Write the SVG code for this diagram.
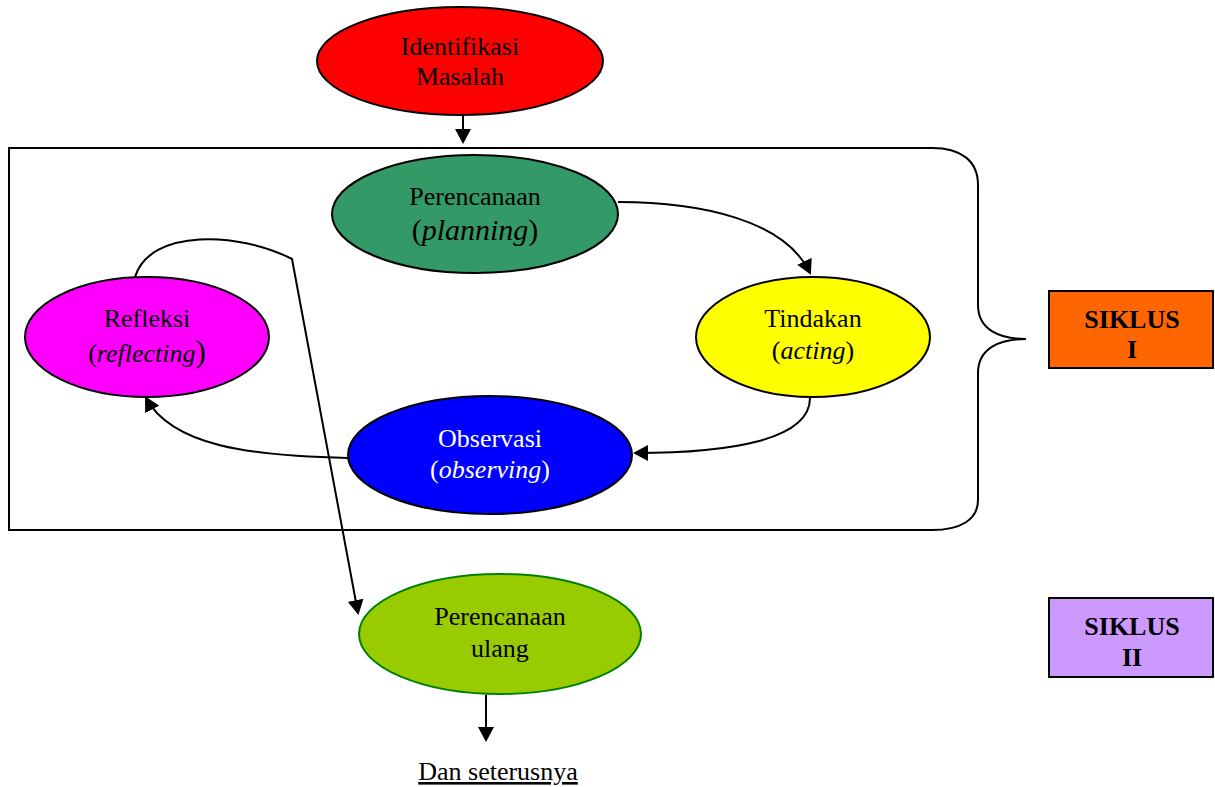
<svg xmlns="http://www.w3.org/2000/svg" width="1215" height="787" viewBox="0 0 1215 787">
<style>
text{font-family:"Liberation Serif","Times New Roman",serif;font-size:26px;text-anchor:middle;fill:#000}
.n{stroke:#000;stroke-width:2}
.c{fill:none;stroke:#000;stroke-width:2}
.b{font-weight:bold}
.w{fill:#fff}
</style>
<defs>
<marker id="ah" markerWidth="15" markerHeight="16" refX="13" refY="8" orient="auto" markerUnits="userSpaceOnUse">
<path d="M0,0 L15,8 L0,16 Z" fill="#000"/>
</marker>
</defs>
<g id="frame">
<path class="c" d="M 9 148 H 932 C 960 148 978 160 978 185 V 305 C 978 330 1000 339 1026 339 C 1000 339 978 348 978 373 V 500 C 978 520 960 530 932 530 H 9 Z"/>
</g>
<g id="connectors">
<path class="c" d="M 463 115 L 463 142" marker-end="url(#ah)"/>
<path class="c" d="M 618 202 C 700 202 785 220 810 273" marker-end="url(#ah)"/>
<path class="c" d="M 810 398 C 810 440 730 453 635 453" marker-end="url(#ah)"/>
<path class="c" d="M 348 458 C 250 456 172 446 146 398" marker-end="url(#ah)"/>
<path class="c" d="M 135 277 C 150 228 240 232 292 259 L 358 613" marker-end="url(#ah)"/>
<path class="c" d="M 486 695 L 486 740" marker-end="url(#ah)"/>
</g>
<g id="identifikasi">
<ellipse class="n" cx="460" cy="61" rx="143" ry="54" fill="#FF0000"/>
<text x="460" y="55">Identifikasi</text>
<text x="460" y="85">Masalah</text>
</g>
<g id="perencanaan">
<ellipse class="n" cx="475" cy="214" rx="143" ry="59" fill="#339966"/>
<text x="475" y="205">Perencanaan</text>
<text x="475" y="240" style="font-size:30px">(<tspan font-style="italic">planning</tspan>)</text>
</g>
<g id="tindakan">
<ellipse class="n" cx="813" cy="337" rx="117" ry="60" fill="#FFFF00"/>
<text x="813" y="327">Tindakan</text>
<text x="813" y="359">(<tspan font-style="italic">acting</tspan>)</text>
</g>
<g id="refleksi">
<ellipse class="n" cx="147" cy="337" rx="122" ry="60" fill="#FF00FF"/>
<text x="147" y="327">Refleksi</text>
<text x="147" y="362">(<tspan font-style="italic">reflecting</tspan><tspan style="font-size:31px">)</tspan></text>
</g>
<g id="observasi">
<ellipse class="n" cx="490" cy="455" rx="142" ry="59" fill="#0000FF"/>
<text class="w" x="490" y="447">Observasi</text>
<text class="w" x="490" y="478">(<tspan font-style="italic">observing</tspan>)</text>
</g>
<g id="perencanaan-ulang">
<ellipse cx="500" cy="634" rx="141" ry="60" fill="#99CC00" stroke="#008000" stroke-width="2"/>
<text x="500" y="625">Perencanaan</text>
<text x="500" y="657">ulang</text>
</g>
<g id="dan-seterusnya">
<text x="498" y="780" text-decoration="underline">Dan seterusnya</text>
</g>
<g id="siklus-1">
<rect class="n" x="1049" y="291" width="164" height="77" fill="#FF6600"/>
<text class="b" x="1132" y="328">SIKLUS</text>
<text class="b" x="1132" y="358">I</text>
</g>
<g id="siklus-2">
<rect class="n" x="1049" y="598" width="164" height="79" fill="#CC99FF"/>
<text class="b" x="1132" y="635">SIKLUS</text>
<text class="b" x="1132" y="666">II</text>
</g>
</svg>
